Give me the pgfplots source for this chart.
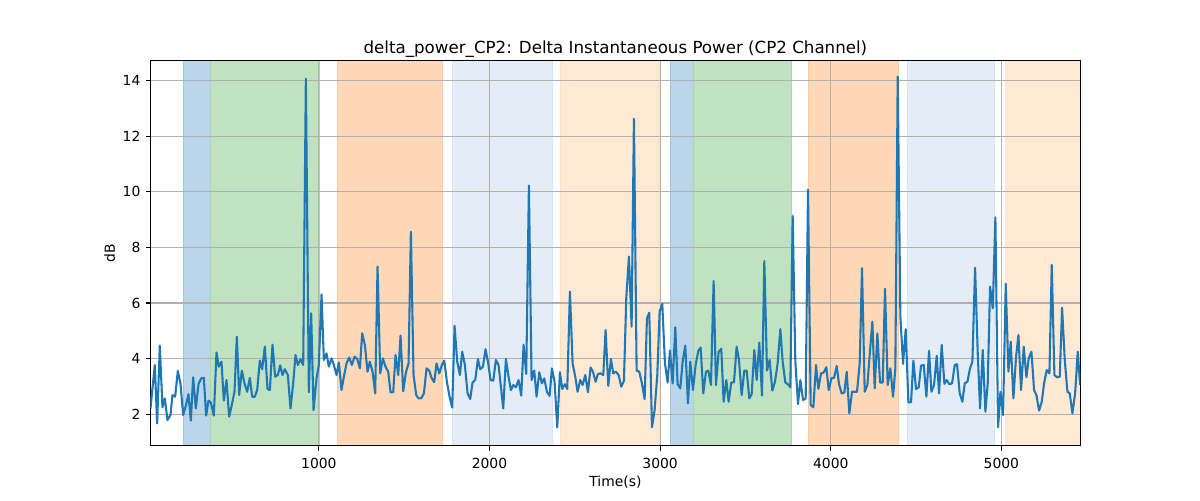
\documentclass[border=0pt]{standalone}
\usepackage{pgfplots}
\pgfplotsset{compat=1.18}
\usepackage{fontspec}
\setmainfont{DejaVu Sans}
\definecolor{tabblue}{RGB}{31,119,180}
\definecolor{spanblue}{RGB}{188,214,233}
\definecolor{spangreen}{RGB}{192,226,192}
\definecolor{spanorange}{RGB}{255,217,183}
\definecolor{spanlblue}{RGB}{228,237,246}
\definecolor{spanlorange}{RGB}{255,233,213}
\definecolor{edgeblue}{RGB}{160,198,224}
\definecolor{edgegreen}{RGB}{168,215,168}
\definecolor{edgeorange}{RGB}{255,202,158}
\definecolor{edgelblue}{RGB}{214,229,241}
\definecolor{edgelorange}{RGB}{255,222,194}
\definecolor{gridgray}{RGB}{176,176,176}
\begin{document}
\begin{tikzpicture}
\begin{axis}[
  at={(108.3pt,39.1pt)}, anchor=south west,
  set layers,
  scale only axis, width=669.6pt, height=277.4pt,
  xmin=13, xmax=5463, ymin=0.87, ymax=14.72,
  xtick={1000,2000,3000,4000,5000},
  ytick={2,4,6,8,10,12,14},
  grid=major,
  major grid style={gridgray, line width=0.8pt},
  tick align=outside, major tick length=3.5pt,
  tick style={black, line width=0.8pt},
  axis line style={line width=0.8pt},
  tick pos=left,
  /pgf/number format/assume math mode=true,
  /pgf/number format/1000 sep={},
  ticklabel style={font=\fontsize{10}{12}\selectfont},
  xticklabel style={inner sep=0pt, yshift=-5.5pt},
  yticklabel style={inner sep=0pt, xshift=-3.5pt},
  title={delta\_power\_CP2: Delta Instantaneous Power (CP2 Channel)},
  title style={font=\fontsize{12}{14}\selectfont, at={(axis description cs:0.5,1)}, anchor=base, yshift=-1pt},
  xlabel={Time(s)},
  xlabel style={font=\fontsize{10}{12}\selectfont, at={(axis description cs:0.5,0)}, anchor=north, yshift=-18pt},
  ylabel={dB},
  ylabel style={font=\fontsize{10}{12}\selectfont, at={(axis description cs:0,0.5)}, anchor=south, yshift=22pt},
]
% spans
\addplot[on layer=axis background, fill=spanblue, draw=edgeblue, line width=0.6pt] coordinates {(205,0.87) (365,0.87) (365,14.72) (205,14.72)} -- cycle;
\addplot[on layer=axis background, fill=spangreen, draw=edgegreen, line width=0.6pt] coordinates {(365,0.87) (1006,0.87) (1006,14.72) (365,14.72)} -- cycle;
\addplot[on layer=axis background, fill=spanorange, draw=edgeorange, line width=0.6pt] coordinates {(1107,0.87) (1725,0.87) (1725,14.72) (1107,14.72)} -- cycle;
\addplot[on layer=axis background, fill=spanlblue, draw=edgelblue, line width=0.6pt] coordinates {(1782,0.87) (2370,0.87) (2370,14.72) (1782,14.72)} -- cycle;
\addplot[on layer=axis background, fill=spanlorange, draw=edgelorange, line width=0.6pt] coordinates {(2413,0.87) (2995,0.87) (2995,14.72) (2413,14.72)} -- cycle;
\addplot[on layer=axis background, fill=spanblue, draw=edgeblue, line width=0.6pt] coordinates {(3058,0.87) (3194,0.87) (3194,14.72) (3058,14.72)} -- cycle;
\addplot[on layer=axis background, fill=spangreen, draw=edgegreen, line width=0.6pt] coordinates {(3194,0.87) (3771,0.87) (3771,14.72) (3194,14.72)} -- cycle;
\addplot[on layer=axis background, fill=spanorange, draw=edgeorange, line width=0.6pt] coordinates {(3867,0.87) (4398,0.87) (4398,14.72) (3867,14.72)} -- cycle;
\addplot[on layer=axis background, fill=spanlblue, draw=edgelblue, line width=0.6pt] coordinates {(4447,0.87) (4957,0.87) (4957,14.72) (4447,14.72)} -- cycle;
\addplot[on layer=axis background, fill=spanlorange, draw=none] coordinates {(5021,0.87) (5463,0.87) (5463,14.72) (5021,14.72)} -- cycle;
% data
\addplot[tabblue, line width=1.5pt, line join=round, mark=none] table {
x y
13.3 2.21
38.7 3.77
52.4 1.67
68.0 4.47
83.6 2.25
97.3 2.57
112.9 1.79
130.5 1.97
142.2 2.69
157.9 2.63
173.5 3.56
189.1 3.11
204.8 1.97
220.4 2.30
236.0 2.72
249.7 1.77
263.4 3.33
279.0 2.21
294.7 3.08
310.3 3.29
326.0 3.31
339.6 1.95
353.3 2.49
367.0 2.43
384.5 1.95
400.2 4.22
413.9 3.71
429.5 3.89
443.2 2.49
458.8 3.23
474.4 1.91
490.1 2.34
505.7 2.81
519.4 4.79
533.1 2.69
548.7 3.57
564.3 3.11
580.0 2.81
595.6 3.31
609.3 2.63
624.9 2.63
638.6 2.87
654.2 3.93
667.9 3.62
683.5 4.43
699.1 2.91
712.8 2.87
728.5 4.50
744.1 3.35
759.7 3.41
773.4 3.76
787.1 3.41
800.7 3.62
818.3 3.41
834.0 2.21
849.6 3.11
863.3 4.13
877.0 3.77
892.6 3.98
908.2 3.77
923.9 14.06
941.4 2.79
955.1 5.63
968.8 2.15
986.4 3.29
1000.1 3.77
1015.7 6.31
1029.4 3.95
1045.0 4.19
1058.7 3.71
1074.3 4.01
1088.0 3.77
1103.6 3.41
1117.3 3.86
1132.9 2.87
1146.6 3.35
1162.2 3.83
1177.9 4.04
1193.5 3.77
1209.1 4.07
1224.8 3.99
1240.4 3.65
1254.1 4.91
1269.7 4.49
1285.3 3.53
1299.0 3.89
1314.7 3.53
1330.3 2.75
1344.0 7.31
1359.6 3.47
1375.2 4.01
1390.9 3.71
1406.5 3.53
1420.2 2.79
1435.8 2.79
1449.5 4.13
1465.1 3.41
1478.8 4.83
1494.4 2.83
1510.1 3.50
1525.7 3.83
1539.4 8.56
1555.0 3.41
1570.6 2.69
1584.3 2.57
1600.0 2.57
1615.6 2.75
1631.2 3.65
1646.8 3.57
1660.5 3.31
1676.1 3.15
1689.8 3.83
1705.5 3.47
1721.1 3.77
1734.8 3.93
1750.4 3.17
1766.0 2.63
1781.7 2.24
1795.3 5.18
1811.0 3.89
1826.6 3.41
1840.2 4.25
1855.9 3.77
1871.5 2.75
1887.1 2.55
1900.8 3.14
1916.4 3.23
1932.1 3.98
1945.7 3.62
1961.4 3.71
1977.0 4.34
1992.6 3.83
2006.3 3.23
2022.0 3.21
2037.6 3.95
2053.2 3.77
2066.9 2.99
2080.6 2.21
2096.2 3.99
2111.8 3.35
2125.5 2.87
2139.2 3.05
2154.8 2.97
2170.4 3.23
2186.1 2.67
2199.8 4.50
2215.4 3.45
2231.0 10.22
2246.7 3.23
2262.3 3.57
2276.0 2.63
2291.6 3.51
2307.2 3.11
2320.9 3.29
2336.5 2.81
2352.2 2.66
2365.9 3.65
2381.5 3.17
2397.1 1.53
2412.7 3.51
2426.4 2.91
2442.1 3.08
2455.7 2.91
2471.4 6.41
2487.0 3.83
2502.6 3.35
2516.3 2.81
2531.9 3.23
2545.6 3.05
2561.2 3.41
2576.9 2.79
2592.5 3.68
2606.2 3.53
2621.8 3.17
2635.5 3.45
2651.1 3.47
2666.8 3.41
2680.4 5.03
2696.1 3.02
2711.7 3.99
2725.4 3.47
2741.0 3.53
2756.6 3.41
2772.3 2.99
2787.9 3.20
2801.6 6.17
2817.2 7.67
2832.9 5.15
2846.5 12.62
2862.2 3.57
2877.8 3.53
2893.4 3.11
2909.1 2.54
2922.7 5.45
2936.4 5.65
2952.1 1.53
2967.7 2.15
2983.3 3.41
2997.0 5.69
3012.6 5.97
3028.2 3.83
3043.9 3.14
3057.6 4.29
3073.2 3.11
3088.8 5.12
3102.5 3.08
3118.1 2.93
3131.8 3.89
3147.4 4.47
3163.1 2.39
3176.7 3.89
3192.4 2.87
3208.0 3.77
3223.6 4.28
3237.3 4.40
3252.9 2.75
3268.6 3.53
3282.3 3.57
3297.9 3.05
3313.5 6.79
3327.2 3.05
3342.8 4.25
3358.5 4.35
3372.1 2.45
3387.8 3.23
3401.5 2.45
3417.1 3.14
3432.7 3.15
3448.4 4.43
3462.0 3.95
3477.7 2.69
3493.3 3.57
3507.0 3.57
3522.6 2.57
3536.3 2.72
3551.9 4.31
3565.6 3.23
3581.2 4.58
3596.9 2.67
3610.6 7.51
3626.3 3.57
3641.9 3.95
3657.5 2.85
3673.2 3.17
3688.8 3.83
3704.4 5.06
3718.1 3.89
3733.7 3.14
3749.4 3.08
3763.0 2.97
3776.7 9.13
3792.3 3.89
3808.0 2.37
3821.7 3.23
3837.3 2.51
3852.9 2.57
3866.6 10.07
3882.2 2.34
3897.9 2.25
3913.5 3.77
3927.2 2.91
3942.8 3.47
3958.4 3.50
3974.1 3.69
3987.7 2.87
4003.4 3.29
4019.0 3.31
4034.6 3.74
4048.3 3.08
4064.0 2.75
4079.6 2.78
4093.3 3.53
4108.9 2.03
4124.5 2.81
4140.2 2.81
4153.8 2.81
4169.5 3.83
4183.1 7.25
4198.8 2.81
4214.4 3.05
4228.1 4.13
4243.7 5.33
4257.4 2.93
4273.0 4.91
4288.7 3.14
4304.3 3.14
4318.0 6.51
4333.6 3.05
4349.2 3.65
4364.9 2.63
4378.5 3.65
4392.2 14.14
4407.9 5.51
4423.5 3.81
4439.1 5.06
4454.8 2.43
4470.4 2.43
4484.1 3.93
4499.7 2.91
4515.3 2.97
4529.0 3.75
4544.6 3.77
4560.3 2.63
4575.9 4.28
4589.6 2.81
4605.2 3.05
4620.8 4.10
4634.5 2.75
4650.1 4.49
4665.8 3.09
4679.5 3.23
4695.1 3.08
4710.7 3.11
4726.4 3.77
4740.0 3.80
4755.7 2.75
4771.3 2.45
4785.0 3.11
4800.6 3.17
4816.2 3.65
4829.9 3.89
4845.6 7.27
4861.2 4.19
4874.9 2.21
4890.5 4.31
4906.1 2.09
4919.8 3.11
4933.5 6.59
4949.1 5.81
4964.7 9.08
4980.4 1.53
4994.1 2.81
5009.7 1.97
5025.3 6.69
5041.0 3.53
5054.6 4.61
5070.3 2.57
5085.9 4.07
5099.6 4.85
5115.2 2.87
5130.8 4.43
5146.5 3.33
5160.1 4.01
5175.8 4.25
5191.4 2.87
5205.1 2.69
5220.7 2.13
5236.4 2.45
5250.0 3.11
5265.7 3.59
5281.3 3.47
5295.0 7.37
5310.6 3.41
5326.2 3.33
5341.9 3.35
5355.5 5.83
5371.2 3.95
5386.8 2.81
5400.5 2.75
5416.1 2.03
5431.8 2.75
5447.4 4.25
5461.1 3.05
};
\end{axis}
\path (0pt,0pt) rectangle (864pt,360pt);
\end{tikzpicture}
\end{document}
